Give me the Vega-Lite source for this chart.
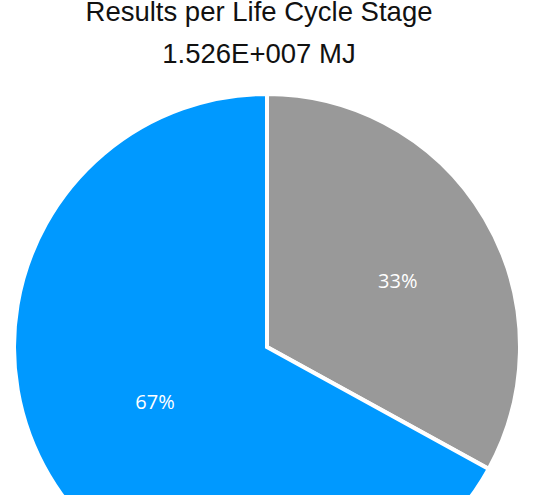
{
  "$schema": "https://vega.github.io/schema/vega-lite/v6.json",
  "autosize": "none",
  "padding": 0,
  "width": 534,
  "height": 694,
  "background": "white",
  "title": {
    "text": "Results per Life Cycle Stage",
    "subtitle": "1.526E+007 MJ",
    "anchor": "middle",
    "frame": "group",
    "orient": "top",
    "offset": -68,
    "dx": -8,
    "font": "Liberation Sans",
    "fontSize": 27.5,
    "fontWeight": "normal",
    "color": "#111111",
    "subtitleFont": "Liberation Sans",
    "subtitleFontSize": 27.5,
    "subtitleColor": "#111111",
    "subtitlePadding": 14
  },
  "data": {
    "values": [
      {"stage": "Stage 1", "value": 33, "label": "33%"},
      {"stage": "Stage 2", "value": 67, "label": "67%"}
    ]
  },
  "encoding": {
    "theta": {"field": "value", "type": "quantitative", "stack": true},
    "order": {"field": "stage", "type": "nominal"},
    "color": {
      "field": "stage",
      "type": "nominal",
      "scale": {"domain": ["Stage 1", "Stage 2"], "range": ["#999999", "#0099ff"]},
      "legend": null
    }
  },
  "layer": [
    {
      "mark": {"type": "arc", "outerRadius": 253, "stroke": "white", "strokeWidth": 4}
    },
    {
      "mark": {"type": "text", "font": "Open Sans", "fontSize": 20, "thetaOffset": 0.073},
      "encoding": {
        "text": {"field": "label"},
        "radius": {
          "field": "value",
          "type": "quantitative",
          "scale": {"type": "linear", "zero": false, "domain": [33, 67], "range": [146, 125]},
          "legend": null
        },
        "color": {"value": "white"}
      }
    }
  ],
  "config": {"view": {"stroke": null}}
}
